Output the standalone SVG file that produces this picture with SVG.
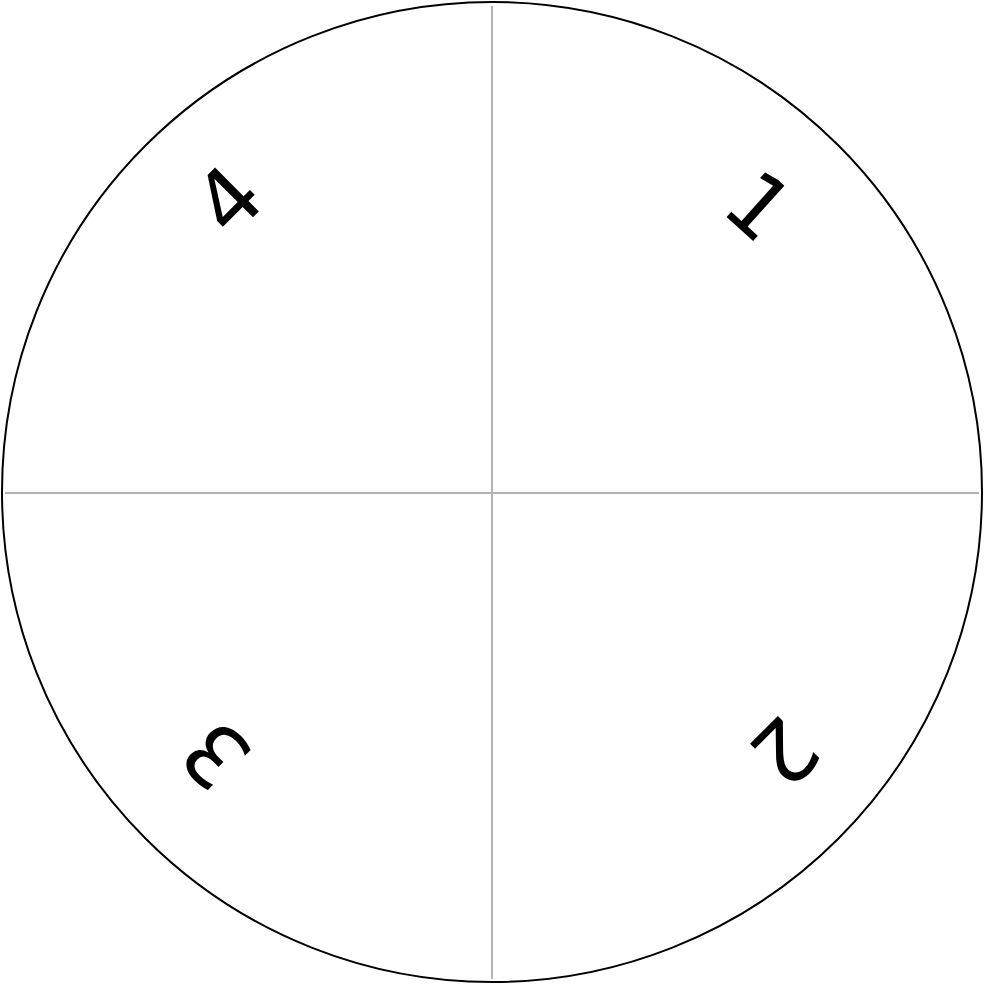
<svg xmlns="http://www.w3.org/2000/svg" width="984" height="984" viewBox="0 0 984 984">
<style>
.axis{stroke:#b3b3b3;stroke-width:2;fill:none}
.rim{stroke:#000;stroke-width:2;fill:#fff}
.num{font-family:"DejaVu Sans",sans-serif;font-size:85px;fill:#000;text-anchor:middle}
</style>
<rect width="984" height="984" fill="#fff"/>
<g id="disc"><circle class="rim" cx="492" cy="492" r="490"/></g>
<g id="connectors">
<line class="axis" x1="492" y1="6" x2="492" y2="979"/>
<line class="axis" x1="5" y1="493" x2="979" y2="493"/>
</g>
<g id="n1" transform="translate(759.5,205) rotate(42)"><text class="num" x="0" y="31">1</text></g>
<g id="n2" transform="translate(785,752.5) rotate(135)"><text class="num" x="0" y="31">2</text></g>
<g id="n3" transform="translate(215.5,756) rotate(225)"><text class="num" x="0" y="31">3</text></g>
<g id="n4" transform="translate(227.5,199) rotate(315)"><text class="num" x="0" y="31">4</text></g>
</svg>
